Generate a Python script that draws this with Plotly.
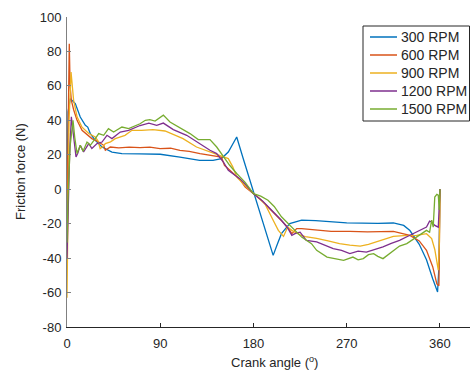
import plotly.graph_objects as go

# ---- data ----
names = ["300 RPM", "600 RPM", "900 RPM", "1200 RPM", "1500 RPM"]
colors = ["#0072BD", "#D95319", "#EDB120", "#7E2F8E", "#77AC30"]

angle_300 = [0, 1, 3.2, 8, 12.8, 17.7, 20, 22.5, 27.3, 33.8, 43.4, 53, 70, 90, 109, 128, 141, 149, 155.7,
             160, 163.8, 170, 180, 190, 199, 203, 207, 215, 226.5, 240, 270, 300, 315, 325, 331, 340, 347,
             353, 357.7, 359, 360]
force_300 = [0, 45, 52.6, 49.7, 41.9, 37.1, 36.1, 32.3, 28.4, 24.5, 21.6, 20.7, 20.5, 20.3, 18.7, 16.8, 16.8,
             17.8, 21.6, 26, 30.3, 18, -1.5, -21, -38.4, -32, -25.8, -20, -18, -18.2, -19.5, -19.8, -19.6,
             -21, -24, -32, -41, -52, -59.7, -45, 0]

angle_600 = [0, 1, 2.2, 3, 4.2, 6.5, 9.7, 14.5, 24, 30.6, 35.4, 37, 41.8, 50, 60, 70.5, 80, 89.8, 100, 109,
             118, 128.4, 141, 149, 152, 159, 167, 172, 180, 187, 194, 200, 207, 213, 217, 221.7, 226.5, 240,
             255, 273, 290, 315, 331, 340, 347, 353, 357, 359, 360]
force_600 = [-15, 40, 84.5, 60, 51.6, 46, 40, 34.2, 29.4, 27.4, 25.5, 22.6, 24.5, 24, 24.5, 24.2, 24.4, 23.6,
             23.8, 22.6, 22, 20.7, 19.7, 18.7, 13.9, 10, 5.6, 1.3, -2.6, -6, -10.3, -14, -18, -22, -25.8,
             -22.9, -22.9, -23.5, -24.5, -24.5, -24.8, -24.5, -26.8, -30, -35.5, -45, -55, -56, 0]

angle_900 = [0, 1, 2, 3.9, 5, 6.4, 9.7, 14.5, 21, 27.3, 30, 32, 35, 37, 42, 46.6, 56, 62.7, 72, 83, 94.6,
             102.6, 112, 125, 138, 147.7, 155.7, 160, 164, 172, 180, 191, 199, 204, 209, 213, 217, 225, 230,
             241, 252, 263, 273, 283, 291, 299, 307, 315, 325, 337.5, 347, 352, 355, 358.4, 359.5, 360]
force_900 = [-63, -20, 40, 68, 58, 51.6, 42, 36, 32.3, 30.3, 28, 23.6, 25, 26.5, 27.5, 29.4, 31.3, 34.2, 34.2,
             34.6, 33.8, 31.9, 29.4, 24.5, 21.6, 19.7, 17.8, 13, 7, 2, -2.6, -8.4, -18, -23.9, -27.4, -22,
             -23.9, -26.5, -27.5, -28.5, -30, -31.6, -32.5, -33, -32, -30.6, -29, -27.4, -27, -26.8, -25.8,
             -28.7, -35, -47, -30, 0]

angle_1200 = [0, 1, 2.5, 4.2, 6, 8.7, 10.5, 12.8, 16, 21, 24, 29, 33.8, 38.6, 43.4, 51.4, 59.5, 66, 70.5, 79,
              86.6, 93, 102.6, 115.5, 128.4, 138, 144.5, 151, 155.7, 160.5, 167, 172, 180, 189, 197.6, 207,
              213, 217, 221, 225, 231, 241, 257, 265, 273, 281, 289, 297, 305, 313, 321, 330, 337.5, 343,
              347, 350, 352, 355, 358.4, 360]
force_1200 = [-40, -10, 20, 42, 32, 18.7, 21, 25.5, 21.6, 26.5, 23.6, 26.5, 27.4, 31.3, 29.4, 33.2, 34.2,
              36.1, 37, 38.4, 37.1, 38.4, 34.6, 31.3, 26.5, 22.6, 20.7, 15.8, 11, 9, 6, 3, -2.6, -7, -12.3,
              -18, -22.5, -26.8, -25.5, -24.9, -29.7, -30.6, -34.5, -35.5, -37.4, -36, -36.5, -35, -33.5,
              -31.5, -29.7, -27, -24.8, -23.5, -22, -18.5, -19, -21, -22, 0]

angle_1500 = [0, 1, 3, 5.8, 7.5, 9.7, 12.8, 15.5, 19.3, 22.5, 27.3, 30.6, 35.4, 40, 45, 53, 59.5, 66, 70.5,
              75.6, 80, 85, 93, 99.4, 109, 118.7, 126.7, 132, 138, 144.5, 151, 157, 164, 172, 180, 187, 194,
              200, 207, 217, 226.5, 236, 241, 251, 259, 267, 276, 281, 286, 291, 296, 300, 305, 310, 315,
              321, 328, 337.5, 343, 347, 350, 352, 353.5, 355, 357, 358.4, 359.3, 360]
force_1500 = [-31, -5, 25, 40, 30, 20.7, 25.5, 22, 27.4, 25.5, 29.4, 32.3, 31.3, 35.2, 33.2, 36.1, 35.2, 37.1,
              38, 40, 40.4, 39.6, 43, 39, 35.8, 32.3, 28.8, 28.8, 28.8, 24.5, 18.7, 13.9, 9, 4, -2.6, -4,
              -6.4, -10, -16, -22, -27.8, -31.6, -35.5, -39.4, -40.5, -41.3, -39.4, -41, -40.3, -38, -37.4,
              -39, -40.3, -38, -35.5, -33, -31.6, -27.8, -26, -23.9, -25, -18, -22, -4.5, -3, -3.5, -12, 0]

x_ticks = [0, 90, 180, 270, 360]
y_ticks = [-80, -60, -40, -20, 0, 20, 40, 60, 80, 100]
y_tick_labels = ["-80", "-60", "-40", "-20", "0", "20", "40", "60", "80", "100"]

angles = [angle_300, angle_600, angle_900, angle_1200, angle_1500]
forces = [force_300, force_600, force_900, force_1200, force_1500]

FONT = "Liberation Sans, Arial, sans-serif"
TXT = "#262626"

# plot-area geometry in pixels
L, R, T, B = 67, 470, 17, 327
W, H = R - L, B - T


def px(x):
    return (x - L) / W


def py(y):
    return (B - y) / H


fig = go.Figure()
for name, col, a, f in zip(names, colors, angles, forces):
    fig.add_trace(go.Scatter(x=a, y=f, mode="lines", name=name,
                             line=dict(color=col, width=1.3), showlegend=False))

# legend box drawn as a boxed key (matching the reference's compact spacing)
shapes = [dict(type="rect", xref="paper", yref="paper", x0=px(363), x1=px(469.5), y0=py(121), y1=py(26),
               line=dict(color=TXT, width=1), fillcolor="white", layer="above")]
annotations = []
for i, (name, col) in enumerate(zip(names, colors)):
    yy = 37 + 18 * i
    shapes.append(dict(type="line", xref="paper", yref="paper", x0=px(370), x1=px(397), y0=py(yy), y1=py(yy),
                       line=dict(color=col, width=1.5), layer="above"))
    annotations.append(dict(text=name, xref="paper", yref="paper", x=px(399), y=py(yy), xanchor="left",
                            yanchor="middle", showarrow=False, font=dict(family=FONT, size=14, color=TXT)))

annotations.append(dict(text="Crank angle (<sup>o</sup>)", xref="paper", yref="paper",
                        x=px(274), y=py(362), xanchor="center", yanchor="middle",
                        showarrow=False, font=dict(family=FONT, size=13, color=TXT)))
annotations.append(dict(text="Friction force (N)", xref="paper", yref="paper", textangle=-90,
                        x=px(20), y=py(172), xanchor="center", yanchor="middle",
                        showarrow=False, font=dict(family=FONT, size=13, color=TXT)))

fig.update_layout(
    width=470, height=372,
    margin=dict(l=L, r=470 - R, t=T, b=372 - B, autoexpand=False),
    paper_bgcolor="white", plot_bgcolor="white",
    font=dict(family=FONT, size=13, color=TXT),
    showlegend=False,
    xaxis=dict(range=[0, 389], tickvals=x_ticks, ticks="inside", ticklen=4, tickcolor=TXT,
               showline=True, linecolor=TXT, linewidth=1, showgrid=False, zeroline=False,
               ticklabelstandoff=4, tickfont=dict(size=13, color=TXT)),
    yaxis=dict(range=[-80, 100], tickvals=y_ticks, ticktext=y_tick_labels, ticks="inside", ticklen=4,
               tickcolor="#808080", showline=True, linecolor="#808080", linewidth=1, showgrid=False,
               zeroline=False, ticklabelstandoff=2, tickfont=dict(size=13, color=TXT)),
    shapes=shapes,
    annotations=annotations,
)

fig.write_html("out.html", config={"displayModeBar": False},
               post_script="document.body.style.margin='0px';document.body.style.overflow='hidden';")
